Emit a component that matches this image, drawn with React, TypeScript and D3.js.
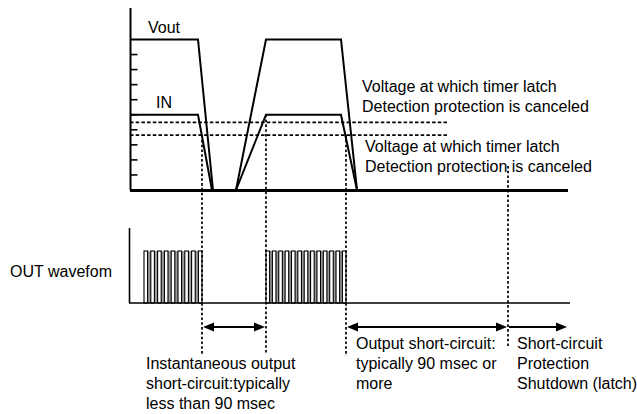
import React from 'react';
import * as d3 from 'd3';

// ---- data (time in arbitrary units, voltage in arbitrary levels) ----
const voutT = [0, 6.8, 8.3, 10.6, 13.6, 21.1, 22.7];
const voutV = [10, 10, 0, 0, 10, 10, 0];
const inT = [0, 6.8, 8.2, 10.6, 13.6, 21.1, 22.7];
const inV = [5, 5, 0, 0, 5, 5, 0];
const thresholds = [4.5, 3.65];
const yTicks = [1, 2, 3, 4, 5, 6, 7, 8, 9];
const markerT = [7.2, 13.6, 21.6, 37.8];
const markerStartV = [3.65, 5, 3.65, 1.6];
const pulseStart = [1.4, 13.6];
const pulseEnd = [7.2, 21.6];
const pulseCount = [9, 13];
const arrowFrom = [7.2, 21.6, 37.8];
const arrowTo = [13.6, 37.8, 43.8];
const arrowBoth = [true, true, false];
const thresholdLabel = ['Voltage at which timer latch', 'Detection protection is canceled'];
const outLabel = 'OUT wavefom';
const noteLeft = ['Instantaneous output', 'short-circuit:typically', 'less than 90 msec'];
const noteMid = ['Output short-circuit:', 'typically 90 msec or', 'more'];
const noteRight = ['Short-circuit', 'Protection', 'Shutdown (latch)'];

const W = 637;
const H = 414;
const FONT = '"Liberation Sans", Arial, sans-serif';

export default function App() {
  const x = d3.scaleLinear().domain([0, 44]).range([130, 570]);
  const yTop = d3.scaleLinear().domain([0, 10]).range([190, 39.5]);
  const yBot = d3.scaleLinear().domain([0, 1]).range([303, 251]);
  const line = d3
    .line<[number, number]>()
    .x((d) => x(d[0]))
    .y((d) => yTop(d[1]));
  const vout = voutT.map((t, i) => [t, voutV[i]] as [number, number]);
  const vin = inT.map((t, i) => [t, inV[i]] as [number, number]);
  const markerEndY = [354, 354, 356, 348];
  const arrowY = 327;
  const headL = 11;
  const headH = 4.5;

  const pulses: JSX.Element[] = [];
  pulseStart.forEach((s, g) => {
    const x0 = x(s);
    const x1 = x(pulseEnd[g]);
    const n = pulseCount[g];
    const pw = 3.6;
    const period = (x1 - x0 - pw) / (n - 1);
    pulses.push(
      <rect key={`bg${g}`} x={x0} y={yBot(1)} width={x1 - x0} height={yBot(0) - yBot(1)} fill="#9c9c9c" />
    );
    for (let i = 0; i < n; i++) {
      pulses.push(
        <rect
          key={`p${g}-${i}`}
          x={x0 + i * period}
          y={yBot(1)}
          width={pw}
          height={yBot(0) - yBot(1)}
          fill="#fff"
          stroke="#000"
          strokeWidth={1.1}
        />
      );
    }
  });

  return (
    <svg
      width={W}
      height={H}
      style={{ position: 'absolute', left: 0, top: 0, background: '#fff' }}
      fontFamily={FONT}
      fontSize={16}
    >
      <rect width={W} height={H} fill="#fff" />
      {/* upper panel axis */}
      <line x1={130.5} x2={130.5} y1={8} y2={yTop(0)} stroke="#000" strokeWidth={2} />
      {yTicks.map((v) => (
        <line key={v} x1={130} x2={137.5} y1={yTop(v)} y2={yTop(v)} stroke="#000" strokeWidth={1.6} />
      ))}
      {/* thresholds */}
      {thresholds.map((v) => (
        <line
          key={v}
          x1={x(0)}
          x2={447}
          y1={yTop(v)}
          y2={yTop(v)}
          stroke="#000"
          strokeWidth={1.7}
          strokeDasharray="3.5,2.2"
        />
      ))}
      {/* waveforms */}
      <path d={line(vout) || ''} fill="none" stroke="#000" strokeWidth={2} strokeLinejoin="miter" />
      <path d={line(vin) || ''} fill="none" stroke="#000" strokeWidth={2} strokeLinejoin="miter" />
      <line x1={x(0)} x2={x(43.8)} y1={yTop(0) + 0.5} y2={yTop(0) + 0.5} stroke="#000" strokeWidth={3} />

      {/* lower panel */}
      {pulses}
      <line x1={129.5} x2={129.5} y1={228} y2={yBot(0)} stroke="#000" strokeWidth={1.6} />
      <line x1={129} x2={x(44)} y1={yBot(0)} y2={yBot(0)} stroke="#000" strokeWidth={1.6} />

      {/* markers */}
      {markerT.map((t, i) => (
        <line
          key={t}
          x1={x(t)}
          x2={x(t)}
          y1={yTop(markerStartV[i])}
          y2={markerEndY[i]}
          stroke="#000"
          strokeWidth={1.7}
          strokeDasharray="2.6,2.2"
        />
      ))}

      {/* arrows */}
      {arrowFrom.map((a, i) => {
        const xa = x(a) + 1;
        const xb = x(arrowTo[i]) - 1;
        return (
          <g key={i}>
            <line
              x1={arrowBoth[i] ? xa + headL - 1 : xa}
              x2={xb - headL + 1}
              y1={arrowY}
              y2={arrowY}
              stroke="#000"
              strokeWidth={2}
            />
            {arrowBoth[i] && (
              <path
                d={`M${xa},${arrowY}L${xa + headL},${arrowY - headH}L${xa + headL},${arrowY + headH}Z`}
                fill="#000"
              />
            )}
            <path d={`M${xb},${arrowY}L${xb - headL},${arrowY - headH}L${xb - headL},${arrowY + headH}Z`} fill="#000" />
          </g>
        );
      })}

      {/* texts */}
      <text x={148} y={33}>Vout</text>
      <text x={156} y={108}>IN</text>
      <text x={362} y={92}>{thresholdLabel[0]}</text>
      <text x={362} y={112}>{thresholdLabel[1]}</text>
      <text x={365} y={152}>{thresholdLabel[0]}</text>
      <text x={365} y={172}>{thresholdLabel[1]}</text>
      <text x={10} y={277}>{outLabel}</text>
      {noteLeft.map((s, i) => (
        <text key={s} x={146} y={369 + i * 20}>{s}</text>
      ))}
      {noteMid.map((s, i) => (
        <text key={s} x={356} y={349 + i * 20}>{s}</text>
      ))}
      {noteRight.map((s, i) => (
        <text key={s} x={517} y={349 + i * 20}>{s}</text>
      ))}
    </svg>
  );
}
